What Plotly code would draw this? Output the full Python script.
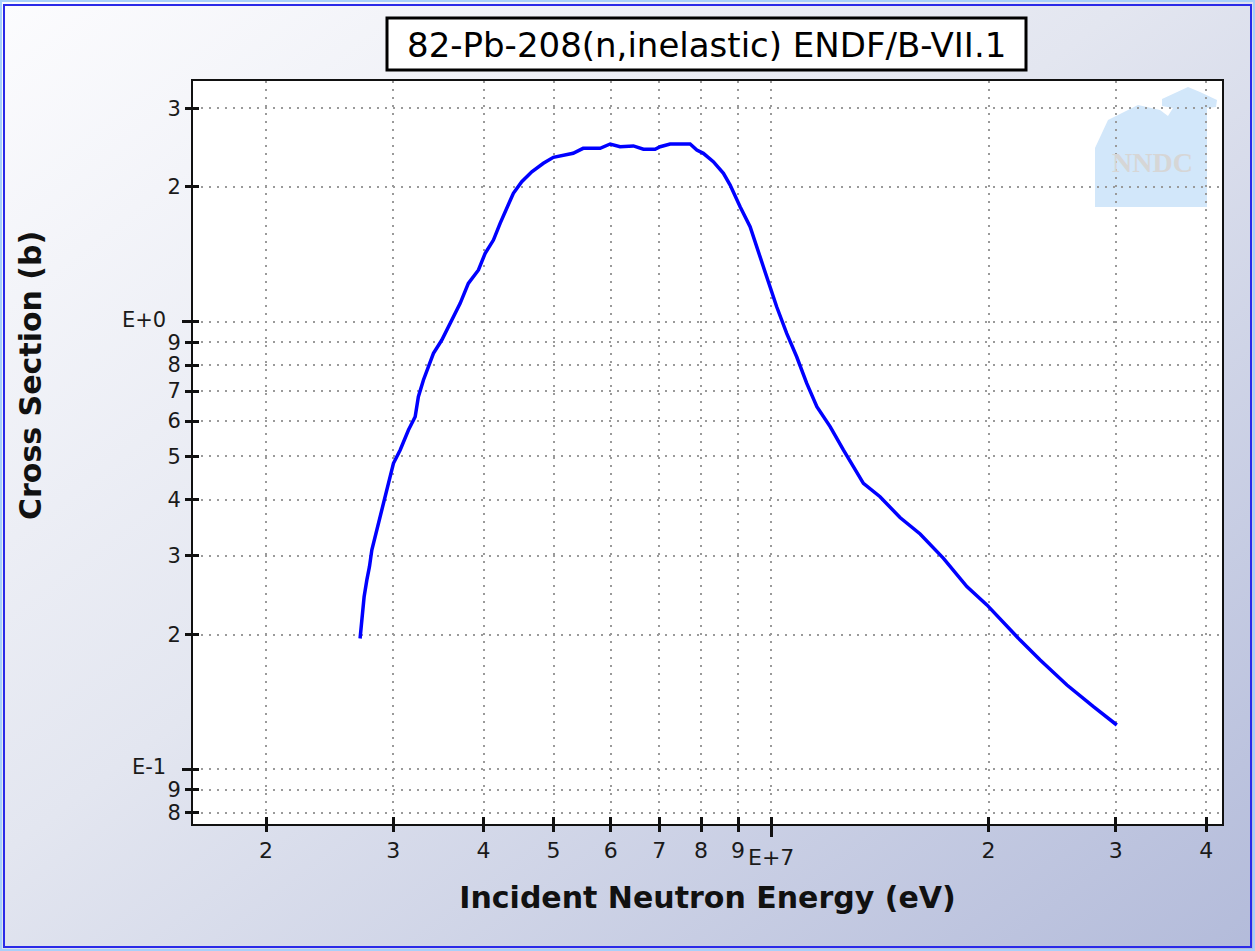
import base64
import math
import plotly.graph_objects as go

# ---------------- data ----------------
energy_eV = [2.699e6, 2.714e6, 2.734e6, 2.758e6, 2.781e6, 2.802e6, 2.832e6, 2.862e6, 2.908e6, 2.955e6,
             3.002e6, 3.067e6, 3.149e6, 3.217e6, 3.250e6, 3.303e6, 3.356e6, 3.410e6, 3.502e6, 3.596e6,
             3.713e6, 3.811e6, 3.936e6, 4.021e6, 4.128e6, 4.217e6, 4.308e6, 4.399e6, 4.518e6, 4.665e6,
             4.840e6, 4.997e6, 5.322e6, 5.494e6, 5.800e6, 5.988e6, 6.180e6, 6.448e6, 6.658e6, 6.910e6,
             7.022e6, 7.249e6, 7.726e6, 7.893e6, 8.058e6, 8.319e6, 8.591e6, 8.777e6, 9.060e6, 9.353e6,
             9.757e6, 1.018e7, 1.051e7, 1.085e7, 1.120e7, 1.157e7, 1.207e7, 1.259e7, 1.342e7, 1.415e7,
             1.508e7, 1.608e7, 1.732e7, 1.866e7, 1.989e7, 2.211e7, 2.357e7, 2.567e7, 2.793e7, 3.009e7]
cross_section_b = [0.196, 0.219, 0.243, 0.265, 0.2836, 0.309, 0.331, 0.3545, 0.393, 0.4355,
                   0.4828, 0.517, 0.573, 0.6135, 0.680, 0.741, 0.793, 0.850, 0.910, 0.992,
                   1.099, 1.218, 1.305, 1.422, 1.522, 1.659, 1.792, 1.936, 2.055, 2.163,
                   2.259, 2.330, 2.378, 2.440, 2.440, 2.495, 2.460, 2.470, 2.428, 2.428,
                   2.460, 2.495, 2.495, 2.419, 2.378, 2.278, 2.146, 2.020, 1.807, 1.630,
                   1.327, 1.080, 0.942, 0.835, 0.729, 0.646, 0.583, 0.517, 0.4355, 0.4064,
                   0.3652, 0.3355, 0.296, 0.256, 0.233, 0.1944, 0.1754, 0.1543, 0.1380, 0.1256]

x_tickvals = [2e6, 3e6, 4e6, 5e6, 6e6, 7e6, 8e6, 9e6, 1e7, 2e7, 3e7, 4e7]
x_ticktext = ["2", "3", "4", "5", "6", "7", "8", "9", "", "2", "3", "4"]
x_decades = [1e7]
x_decade_text = ["E+7"]
y_tickvals = [0.08, 0.09, 0.1, 0.2, 0.3, 0.4, 0.5, 0.6, 0.7, 0.8, 0.9, 1, 2, 3]
y_ticktext = ["8", "9", "", "2", "3", "4", "5", "6", "7", "8", "9", "", "2", "3"]
y_decades = [0.1, 1]
y_decade_text = ["E-1", "E+0"]

title_text = "82-Pb-208(n,inelastic) ENDF/B-VII.1"
x_title = "Incident Neutron Energy (eV)"
y_title = "Cross Section (b)"

x_range_log = [6.200, 7.624]
y_range_log = [-1.1222, 0.5378]

# ---------------- layout geometry ----------------
W, H = 1255, 951
ML, MR, MT, MB = 193, 33, 81, 127
PW, PH = W - ML - MR, H - MT - MB


def px2paper(px, py):
    return (px - ML) / PW, (H - MB - py) / PH


# background (gradient, outer blue frame, white plot area)
svg = f'''<svg xmlns="http://www.w3.org/2000/svg" width="{W}" height="{H}" viewBox="0 0 {W} {H}" preserveAspectRatio="none">
<defs><linearGradient id="g" x1="0" y1="0" x2="1" y2="1">
<stop offset="0" stop-color="#fcfcfe"/><stop offset="0.45" stop-color="#e3e6f0"/><stop offset="1" stop-color="#b3bbda"/>
</linearGradient></defs>
<rect width="{W}" height="{H}" fill="url(#g)"/>
<rect x="1" y="1" width="{W-2}" height="{H-2}" fill="none" stroke="#a8d0fa" stroke-width="2"/>
<rect x="4" y="5" width="{W-8}" height="{H-9}" fill="none" stroke="#2a2ae8" stroke-width="2"/>
<rect x="{ML}" y="{MT}" width="{PW}" height="{PH}" fill="#ffffff"/>
</svg>'''
svg_uri = "data:image/svg+xml;base64," + base64.b64encode(svg.encode()).decode()

fig = go.Figure()
fig.add_trace(go.Scatter(x=energy_eV, y=cross_section_b, mode="lines",
                         line=dict(color="#0000ff", width=3.5), hoverinfo="x+y",
                         showlegend=False))
# invisible traces to activate overlay axes (used for crossing / longer ticks)
fig.add_trace(go.Scatter(x=[], y=[], xaxis="x2", yaxis="y2", showlegend=False, hoverinfo="skip"))
fig.add_trace(go.Scatter(x=[], y=[], xaxis="x3", yaxis="y3", showlegend=False, hoverinfo="skip"))

x_tick_font = dict(family="DejaVu Sans", size=22, color="#1a1a1a")
y_tick_font = dict(family="DejaVu Sans", size=21, color="#1a1a1a")
axis_title_font = dict(family="DejaVu Sans", size=30, color="#111", weight="bold")
grid_kw = dict(showgrid=True, gridcolor="#9a9a9a", gridwidth=1.5, griddash="2px,6px")

fig.update_layout(
    width=W, height=H, autosize=False,
    margin=dict(l=ML, r=MR, t=MT, b=MB, pad=0),
    paper_bgcolor="#ffffff", plot_bgcolor="rgba(0,0,0,0)",
    showlegend=False,
    xaxis=dict(type="log", range=x_range_log, tickvals=x_tickvals, ticktext=x_ticktext,
               tickangle=0, ticks="outside", ticklen=6, tickwidth=3, tickcolor="#111",
               showline=True, linecolor="#111", linewidth=2, mirror=True,
               tickfont=x_tick_font, zeroline=False, **grid_kw,
               title=dict(text=x_title, standoff=25, font=axis_title_font)),
    yaxis=dict(type="log", range=y_range_log, tickvals=y_tickvals, ticktext=y_ticktext,
               ticks="outside", ticklen=6, tickwidth=3, tickcolor="#111",
               showline=True, linecolor="#111", linewidth=2, mirror=True,
               tickfont=y_tick_font, zeroline=False, **grid_kw),
    xaxis2=dict(type="log", range=x_range_log, overlaying="x", anchor="y", side="bottom",
                tickvals=x_tickvals, ticks="inside", ticklen=7, tickwidth=3, tickcolor="#111",
                showticklabels=False, showgrid=False, showline=False, zeroline=False),
    yaxis2=dict(type="log", range=y_range_log, overlaying="y", anchor="x", side="left",
                tickvals=y_tickvals, ticks="inside", ticklen=6, tickwidth=3, tickcolor="#111",
                showticklabels=False, showgrid=False, showline=False, zeroline=False),
    xaxis3=dict(type="log", range=x_range_log, overlaying="x", anchor="y", side="bottom",
                tickvals=x_decades, ticks="outside", ticklen=12, tickwidth=3, tickcolor="#111",
                showticklabels=False, showgrid=False, showline=False, zeroline=False),
    yaxis3=dict(type="log", range=y_range_log, overlaying="y", anchor="x", side="left",
                tickvals=y_decades, ticks="outside", ticklen=10, tickwidth=3, tickcolor="#111",
                showticklabels=False, showgrid=False, showline=False, zeroline=False),
)

# y-axis title (sits above the axis centre in the reference)
yx, yy = px2paper(30, 376)
fig.add_annotation(text=y_title, xref="paper", yref="paper", x=yx, y=yy, textangle=-90,
                   xanchor="center", yanchor="middle", showarrow=False, font=axis_title_font)

# decade tick labels, placed through the axes' own (log) scales
lab_y = px2paper(0, 857)[1]
for v, t in zip(x_decades, x_decade_text):
    fig.add_annotation(text=t, xref="x", yref="paper", x=math.log10(v),
                       y=lab_y, xanchor="center", yanchor="middle", showarrow=False,
                       font=x_tick_font)
lab_x = px2paper(168, 0)[0]
for v, t in zip(y_decades, y_decade_text):
    fig.add_annotation(text=t, xref="paper", yref="y", x=lab_x,
                       y=math.log10(v), yshift=2,
                       xanchor="right", yanchor="middle", showarrow=False,
                       font=y_tick_font)

# background image covering the whole figure
x0, y0 = px2paper(0, 0)
fig.add_layout_image(dict(source=svg_uri, xref="paper", yref="paper", x=x0, y=y0,
                          sizex=W / PW, sizey=H / PH, xanchor="left", yanchor="top",
                          sizing="stretch", layer="below"))

# title box
bx0, by0 = px2paper(387, 70)
bx1, by1 = px2paper(1026, 18)
fig.add_shape(type="rect", xref="paper", yref="paper", x0=bx0, y0=by0, x1=bx1, y1=by1,
              line=dict(color="#000000", width=3), fillcolor="#ffffff", layer="below")
tx, ty = px2paper(706, 45)
fig.add_annotation(text=title_text, xref="paper", yref="paper", x=tx, y=ty,
                   xanchor="center", yanchor="middle", showarrow=False,
                   font=dict(family="DejaVu Sans", size=34, color="#000000"))

# NNDC watermark (house outline)
logo_px = [(1095, 207), (1095, 148), (1108, 120), (1138, 105), (1160, 110), (1168, 116),
           (1173, 108), (1162, 106), (1162, 99), (1188, 87), (1200, 92), (1217, 100),
           (1216, 107), (1207, 108), (1207, 207)]
pts = [px2paper(a, b) for a, b in logo_px]
path = "M " + " L ".join(f"{a:.5f},{b:.5f}" for a, b in pts) + " Z"
fig.add_shape(type="path", xref="paper", yref="paper", path=path,
              fillcolor="#d2e7fa", line=dict(width=0), layer="below")
nx, ny = px2paper(1152, 163)
fig.add_annotation(text="NNDC", xref="paper", yref="paper", x=nx, y=ny,
                   xanchor="center", yanchor="middle", showarrow=False,
                   font=dict(family="Liberation Serif", size=28, color="#d6d6d6", weight="bold"))

fig.write_html("out.html")
